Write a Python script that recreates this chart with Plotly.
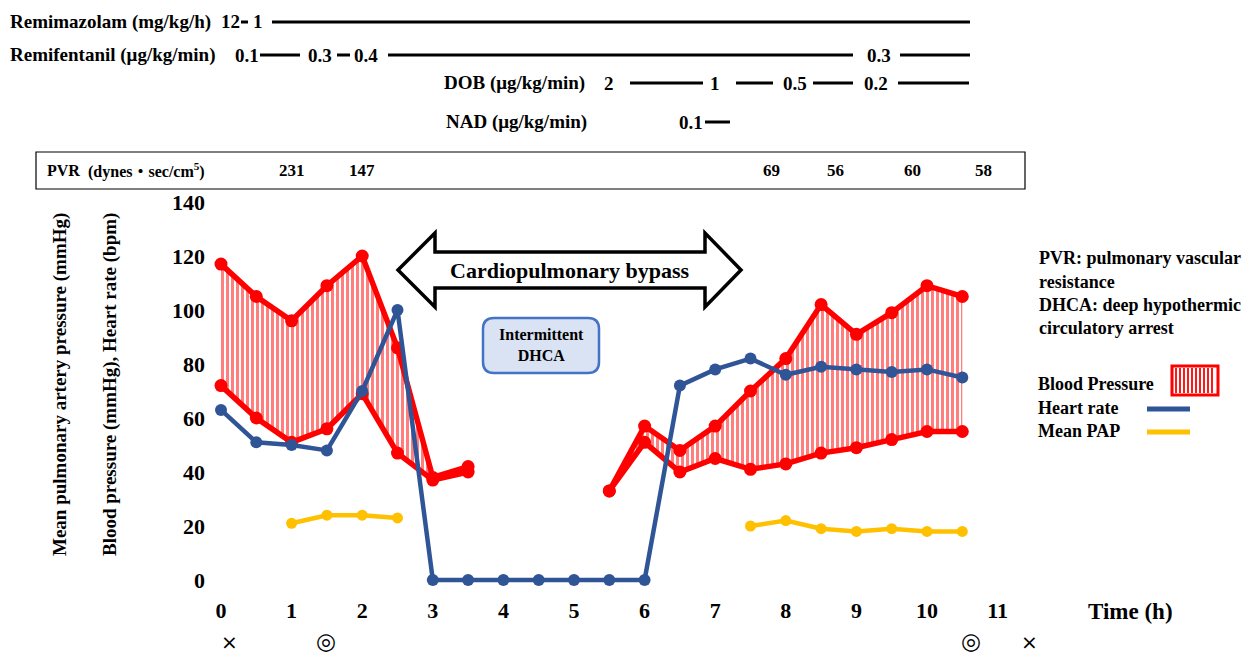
import plotly.graph_objects as go

# ---------------- data ----------------
time_h = [0, 0.5, 1, 1.5, 2, 2.5, 3, 3.5, 4, 4.5, 5, 5.5, 6, 6.5, 7, 7.5, 8, 8.5, 9, 9.5, 10, 10.5]
bp_systolic = [117, 105, 96, 109, 120, 86, 38, 42, None, None, None, 33, 57, 48, 57, 70, 82, 102, 91, 99, 109, 105]
bp_diastolic = [72, 60, 51, 56, 69, 47, 37, 40, None, None, None, 33, 51, 40, 45, 41, 43, 47, 49, 52, 55, 55]
heart_rate = [63, 51, 50, 48, 70, 100, 0, 0, 0, 0, 0, 0, 0, 72, 78, 82, 76, 79, 78, 77, 78, 75]
mean_pap = [None, None, 21, 24, 24, 23, None, None, None, None, None, None, None, None, None, 20, 22, 19, 18, 19, 18, 18]

x_tick_vals = [0, 1, 2, 3, 4, 5, 6, 7, 8, 9, 10, 11]
y_tick_vals = [0, 20, 40, 60, 80, 100, 120, 140]

pvr_values = [231, 147, 69, 56, 60, 58]
pvr_time = [1.0, 2.0, 7.8, 8.7, 9.8, 10.8]

remimazolam_doses = ["12", "1"]
remifentanil_doses = ["0.1", "0.3", "0.4", "0.3"]
dob_doses = ["2", "1", "0.5", "0.2"]
nad_doses = ["0.1"]

# ---------------- geometry helpers ----------------
OFF = 8  # page body margin: figure origin sits at (8, 8) in the window
W, H = 1255 - OFF, 655 - OFF
# plot area in window pixels
PL, PR, PT, PB = 210, 1040, 195, 592
X0_PX, PX_PER_H = 221, 70.6
Y0_PX, PX_PER_U = 580, 2.7

def px(x):
    return (x - PL) / (PR - PL)

def py(y):
    return (PB - y) / (PB - PT)

SERIF = "Liberation Serif, Times New Roman, Noto Sans CJK JP, serif"
RED = "#ff0000"
BLUE = "#2f5597"
YELLOW = "#ffc000"

def segments(vals):
    segs, cur = [], []
    for i, v in enumerate(vals):
        if v is None:
            if cur:
                segs.append(cur)
                cur = []
        else:
            cur.append(i)
    if cur:
        segs.append(cur)
    return segs

fig = go.Figure()

# Blood pressure: hatched band between diastolic and systolic
for seg in segments(bp_systolic):
    xs = [time_h[i] for i in seg]
    fig.add_trace(go.Scatter(
        x=xs, y=[bp_diastolic[i] for i in seg], mode="lines+markers",
        line=dict(color=RED, width=5.5), marker=dict(color=RED, size=13),
        showlegend=False, hoverinfo="skip"))
    fig.add_trace(go.Scatter(
        x=xs, y=[bp_systolic[i] for i in seg], mode="lines+markers",
        line=dict(color=RED, width=5.5), marker=dict(color=RED, size=13),
        fill="tonexty", fillcolor="white",
        fillpattern=dict(shape="|", fgcolor=RED, bgcolor="white", size=5, solidity=0.6),
        showlegend=False, hoverinfo="skip"))

# Heart rate
fig.add_trace(go.Scatter(
    x=time_h, y=heart_rate, mode="lines+markers",
    line=dict(color=BLUE, width=4.5), marker=dict(color=BLUE, size=12),
    showlegend=False))

# Mean PAP
fig.add_trace(go.Scatter(
    x=time_h, y=mean_pap, mode="lines+markers", connectgaps=False,
    line=dict(color=YELLOW, width=4.5), marker=dict(color=YELLOW, size=11),
    showlegend=False))

x_lo = (PL - X0_PX) / PX_PER_H
x_hi = (PR - X0_PX) / PX_PER_H
y_lo = -(PB - Y0_PX) / PX_PER_U
y_hi = (Y0_PX - PT) / PX_PER_U

annotations = []
shapes = []

def ann(text, x, y, size, xanchor="center", bold=True, family=SERIF, **kw):
    t = f"<b>{text}</b>" if bold else text
    d = dict(text=t, x=px(x), y=py(y), xref="paper", yref="paper",
             xanchor=xanchor, yanchor="middle", showarrow=False,
             font=dict(family=family, size=size, color="black"))
    d.update(kw)
    annotations.append(d)

def hline(x1, x2, y, width=3):
    shapes.append(dict(type="line", xref="paper", yref="paper",
                       x0=px(x1), x1=px(x2), y0=py(y), y1=py(y),
                       line=dict(color="black", width=width)))

# ---- drug rows ----
ann("Remimazolam (mg/kg/h)", 8, 22, 19, xanchor="left")
ann(remimazolam_doses[0], 230, 22, 19)
hline(241, 248, 22)
ann(remimazolam_doses[1], 258, 22, 19)
hline(272, 970, 22)

ann("Remifentanil (μg/kg/min)", 8, 55, 19, xanchor="left")
ann(remifentanil_doses[0], 247, 55, 19)
hline(260, 300, 55)
ann(remifentanil_doses[1], 320, 55, 19)
hline(337, 350, 55)
ann(remifentanil_doses[2], 366, 55, 19)
hline(388, 853, 55)
ann(remifentanil_doses[3], 879, 55, 19)
hline(900, 970, 55)

ann("DOB (μg/kg/min)", 514, 83, 19)
ann(dob_doses[0], 609, 83, 19)
hline(630, 703, 83)
ann(dob_doses[1], 715, 83, 19)
hline(736, 773, 83)
ann(dob_doses[2], 795, 83, 19)
hline(813, 853, 83)
ann(dob_doses[3], 876, 83, 19)
hline(898, 969, 83)

ann("NAD (μg/kg/min)", 516, 122, 19)
ann(nad_doses[0], 691, 122, 19)
hline(705, 730, 122)

# ---- PVR row ----
shapes.append(dict(type="rect", xref="paper", yref="paper",
                   x0=px(36), x1=px(1025), y0=py(152), y1=py(189),
                   line=dict(color="black", width=1.2)))
ann("PVR", 45, 170, 16, xanchor="left")
ann("(dynes・sec/cm<sup>5</sup>)", 86, 170, 16, xanchor="left")
for t, v in zip(pvr_time, pvr_values):
    annotations.append(dict(text=f"<b>{v}</b>", x=t, y=py(170), xref="x", yref="paper",
                            showarrow=False, xanchor="center", yanchor="middle",
                            font=dict(family=SERIF, size=17, color="black")))

# ---- axis titles ----
ann("Mean pulmonary artery pressure (mmHg)", 60, 385, 19, textangle=-90)
ann("Blood pressure (mmHg), Heart rate (bpm)", 110, 385, 19, textangle=-90)
ann("Time (h)", 1130, 611, 23)

# ---- bottom markers ----
SYM = "DejaVu Sans, sans-serif"
ann("×", 229, 642, 20, bold=False, family=SYM)
ann("◎", 326, 641, 23, bold=False, family=SYM)
ann("◎", 971, 641, 23, bold=False, family=SYM)
ann("×", 1029, 642, 20, bold=False, family=SYM)

# ---- CPB double arrow ----
pts = [(398, 270), (435, 233), (435, 252), (705, 252), (705, 233), (741, 270),
       (705, 307), (705, 288), (435, 288), (435, 307)]
path = "M " + " L ".join(f"{px(a):.5f},{py(b):.5f}" for a, b in pts) + " Z"
shapes.append(dict(type="path", xref="paper", yref="paper", path=path,
                   fillcolor="white", line=dict(color="black", width=3.5), layer="above"))
ann("Cardiopulmonary bypass", 569, 270, 22)

# ---- Intermittent DHCA rounded box ----
bx0, bx1, by0, by1, r = 483, 599, 318, 373, 11
rr = (f"M {px(bx0 + r)},{py(by0)} L {px(bx1 - r)},{py(by0)} "
      f"Q {px(bx1)},{py(by0)} {px(bx1)},{py(by0 + r)} L {px(bx1)},{py(by1 - r)} "
      f"Q {px(bx1)},{py(by1)} {px(bx1 - r)},{py(by1)} L {px(bx0 + r)},{py(by1)} "
      f"Q {px(bx0)},{py(by1)} {px(bx0)},{py(by1 - r)} L {px(bx0)},{py(by0 + r)} "
      f"Q {px(bx0)},{py(by0)} {px(bx0 + r)},{py(by0)} Z")
shapes.append(dict(type="path", xref="paper", yref="paper", path=rr,
                   fillcolor="#dae3f3", line=dict(color="#4472c4", width=2.5), layer="above"))
ann("Intermittent<br>DHCA", 541, 345, 16)

# ---- notes ----
ann("PVR: pulmonary vascular", 1037, 258, 18, xanchor="left")
ann("resistance", 1037, 282, 18, xanchor="left")
ann("DHCA: deep hypothermic", 1037, 305, 18, xanchor="left")
ann("circulatory arrest", 1037, 328, 18, xanchor="left")

# ---- manual legend ----
ann("Blood Pressure", 1036, 384, 18, xanchor="left")
ann("Heart rate", 1036, 408, 18, xanchor="left")
ann("Mean PAP", 1036, 431, 18, xanchor="left")
hatch = " ".join(f"M {px(xx):.5f},{py(368):.5f} L {px(xx):.5f},{py(393):.5f}" for xx in range(1176, 1216, 4))
shapes.append(dict(type="path", xref="paper", yref="paper", path=hatch,
                   line=dict(color=RED, width=1.8)))
shapes.append(dict(type="rect", xref="paper", yref="paper",
                   x0=px(1172), x1=px(1218), y0=py(366), y1=py(395),
                   line=dict(color=RED, width=3)))
shapes.append(dict(type="line", xref="paper", yref="paper",
                   x0=px(1147), x1=px(1190), y0=py(409), y1=py(409),
                   line=dict(color=BLUE, width=5)))
shapes.append(dict(type="line", xref="paper", yref="paper",
                   x0=px(1147), x1=px(1190), y0=py(432), y1=py(432),
                   line=dict(color=YELLOW, width=5)))

fig.update_layout(
    width=W, height=H,
    margin=dict(l=PL - OFF, r=(W + OFF) - PR, t=PT - OFF, b=(H + OFF) - PB, pad=0),
    paper_bgcolor="white", plot_bgcolor="white",
    showlegend=False,
    xaxis=dict(range=[x_lo, x_hi], tickvals=x_tick_vals, ticktext=[f"<b>{v}</b>" for v in x_tick_vals],
               showgrid=False, zeroline=False, showline=False, ticks="",
               ticklabelstandoff=3,
               tickfont=dict(family=SERIF, size=22, color="black")),
    yaxis=dict(range=[y_lo, y_hi], tickvals=y_tick_vals, ticktext=[f"<b>{v}</b>" for v in y_tick_vals],
               showgrid=False, zeroline=False, showline=False, ticks="",
               ticklabelstandoff=4,
               tickfont=dict(family=SERIF, size=22, color="black")),
    annotations=annotations,
    shapes=shapes,
)

fig.write_html("out.html")
